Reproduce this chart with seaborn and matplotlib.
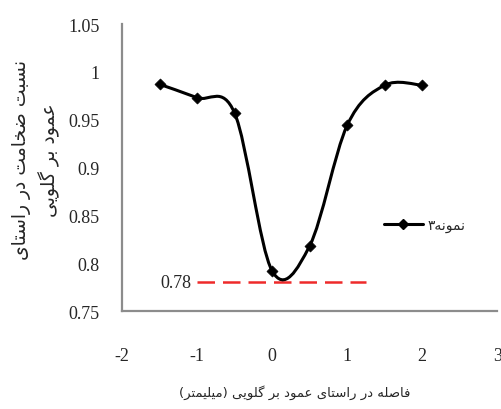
import matplotlib
matplotlib.use("Agg")
import matplotlib.pyplot as plt
from matplotlib.path import Path
from matplotlib.patches import PathPatch
from matplotlib.lines import Line2D
import seaborn as sns

# data
distance = [-1.5, -1.0, -0.5, 0.0, 0.5, 1.0, 1.5, 2.0]
ratio = [0.987, 0.973, 0.957, 0.792, 0.818, 0.944, 0.986, 0.986]
ref_value = 0.78
ref_start, ref_end = -1.0, 1.25
x_ticks = [-2, -1, 0, 1, 2, 3]
y_ticks = [0.75, 0.8, 0.85, 0.9, 0.95, 1.0, 1.05]
y_ticklabels = ["0.75", "0.8", "0.85", "0.9", "0.95", "1", "1.05"]

ylabel_lines = ["نسبت ضخامت در راستای", "عمود بر گلویی"]
xlabel_text = "فاصله در راستای عمود بر گلویی (میلیمتر)"
legend_text = "نمونه۳"

# arabic presentation forms: isolated, final, initial, medial
FORMS = {
    'ا': ('\uFE8D', '\uFE8E', None, None),
    'ب': ('\uFE8F', '\uFE90', '\uFE91', '\uFE92'),
    'ت': ('\uFE95', '\uFE96', '\uFE97', '\uFE98'),
    'خ': ('\uFEA5', '\uFEA6', '\uFEA7', '\uFEA8'),
    'د': ('\uFEA9', '\uFEAA', None, None),
    'ر': ('\uFEAD', '\uFEAE', None, None),
    'س': ('\uFEB1', '\uFEB2', '\uFEB3', '\uFEB4'),
    'ص': ('\uFEB9', '\uFEBA', '\uFEBB', '\uFEBC'),
    'ض': ('\uFEBD', '\uFEBE', '\uFEBF', '\uFEC0'),
    'ع': ('\uFEC9', '\uFECA', '\uFECB', '\uFECC'),
    'ف': ('\uFED1', '\uFED2', '\uFED3', '\uFED4'),
    'ل': ('\uFEDD', '\uFEDE', '\uFEDF', '\uFEE0'),
    'م': ('\uFEE1', '\uFEE2', '\uFEE3', '\uFEE4'),
    'ن': ('\uFEE5', '\uFEE6', '\uFEE7', '\uFEE8'),
    'ه': ('\uFEE9', '\uFEEA', '\uFEEB', '\uFEEC'),
    'و': ('\uFEED', '\uFEEE', None, None),
    'ی': ('\uFBFC', '\uFBFD', '\uFBFE', '\uFBFF'),
    'گ': ('\uFB92', '\uFB93', '\uFB94', '\uFB95'),
}


def shape(text):
    out = []
    for i, ch in enumerate(text):
        if ch not in FORMS:
            out.append(ch)
            continue
        prev = text[i - 1] if i > 0 else ''
        nxt = text[i + 1] if i < len(text) - 1 else ''
        iso, fin, ini, med = FORMS[ch]
        jp = prev in FORMS and FORMS[prev][2] is not None
        jn = nxt in FORMS and ini is not None
        if jp and jn:
            out.append(med)
        elif jp:
            out.append(fin)
        elif jn:
            out.append(ini)
        else:
            out.append(iso)
    return ''.join(out)[::-1].translate(str.maketrans('()', ')('))


def smooth_path(xs, ys):
    # bezier segments (catmull-rom style, like excel's smoothed line)
    pts = list(zip(xs, ys))
    verts = [pts[0]]
    codes = [Path.MOVETO]
    n = len(pts)
    for i in range(n - 1):
        p0 = pts[i - 1] if i > 0 else pts[i]
        p1, p2 = pts[i], pts[i + 1]
        p3 = pts[i + 2] if i + 2 < n else pts[i + 1]
        c1 = (p1[0] + (p2[0] - p0[0]) / 6, p1[1] + (p2[1] - p0[1]) / 6)
        c2 = (p2[0] - (p3[0] - p1[0]) / 6, p2[1] - (p3[1] - p1[1]) / 6)
        verts += [c1, c2, p2]
        codes += [Path.CURVE4] * 3
    return Path(verts, codes)


sns.set_style("white")
plt.rcParams['font.family'] = ['Liberation Serif', 'DejaVu Sans']

fig = plt.figure(figsize=(5.01, 4.10), dpi=100)
ax = fig.add_axes([0.2435, 0.239, 0.749, 0.700])

ax.add_patch(PathPatch(smooth_path(distance, ratio), facecolor='none',
                       edgecolor='black', lw=2.2, zorder=3))
sns.scatterplot(x=distance, y=ratio, marker='D', s=32, color='black',
                edgecolor='black', ax=ax, zorder=4)

ax.hlines(ref_value, ref_start, ref_end, colors='#ee2a2a', linestyles=(0, (7, 3.2)), lw=1.8)
ax.text(ref_start - 0.07, ref_value, f"{ref_value:.2f}", ha='right', va='center',
        fontsize=13, family='Liberation Serif')

ax.set_xlim(-2, 3)
ax.set_ylim(0.75, 1.05)
ax.set_xticks(x_ticks)
ax.set_xticklabels([str(t) for t in x_ticks])
ax.set_yticks(y_ticks)
ax.set_yticklabels(y_ticklabels)
ax.tick_params(axis='x', length=0, pad=26, labelsize=13)
ax.tick_params(axis='y', length=0, pad=16, labelsize=13)

sns.despine(ax=ax, top=True, right=True)
for side in ['left', 'bottom']:
    ax.spines[side].set_color('#8c8c8c')
    ax.spines[side].set_linewidth(1.6)

ax.set_xlabel(shape(xlabel_text), fontsize=9.5, family='DejaVu Sans')
ax.xaxis.set_label_coords(0.46, -0.255)
fig.text(0.072, 0.61, "\n".join(shape(s) for s in ylabel_lines), rotation=90,
         ha='center', va='center', multialignment='center', fontsize=13.5,
         family='DejaVu Sans', linespacing=1.45)

handle = Line2D([], [], color='black', lw=2.2, marker='D', markersize=5.5)
ax.legend([handle], [shape(legend_text)], loc='center left',
          bbox_to_anchor=(0.665, 0.3), frameon=False, handlelength=2.8,
          handletextpad=0.3, prop={'family': 'DejaVu Sans', 'size': 10})

fig.savefig("out.png", dpi=100)
